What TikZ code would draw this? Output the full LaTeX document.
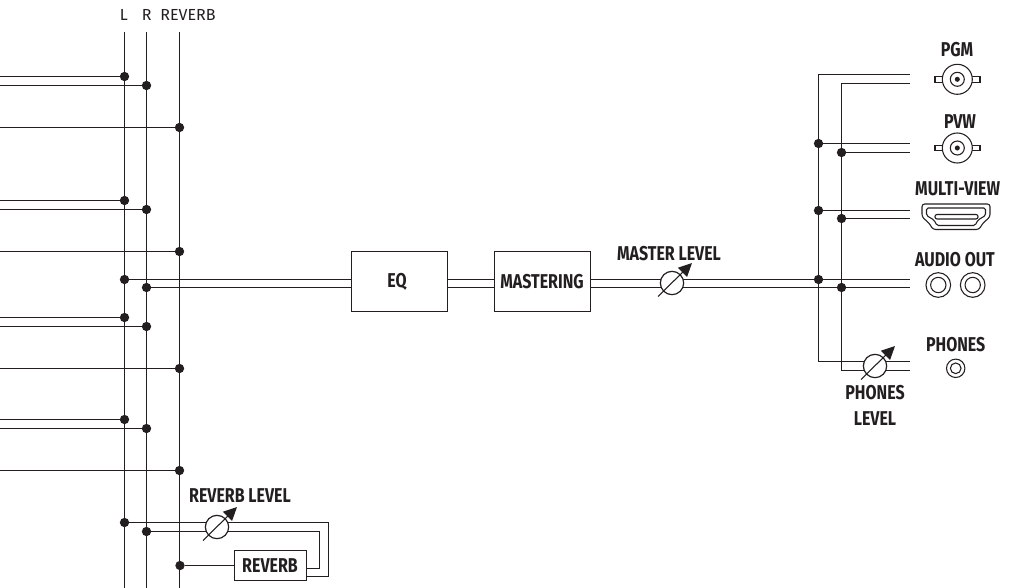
\documentclass[tikz,border=0pt]{standalone}
\usepackage{fontspec}
\setmainfont{Fira Sans}
\newfontfamily\lblfont[FakeStretch=0.8]{Fira Sans}
\usetikzlibrary{arrows.meta}
\definecolor{ink}{HTML}{231F20}
\tikzset{
  wire/.style={draw=ink,line width=0.9pt},
  jdot/.style={circle,fill=ink,inner sep=0pt,minimum size=7pt},
  lbl/.style={font=\lblfont\bfseries\fontsize{15}{17}\selectfont,text=ink,inner sep=0pt,align=center},
  box/.style={draw=ink,line width=0.9pt,fill=white,inner sep=0pt},
  meter/.style={circle,draw=ink,line width=0.9pt,fill=white,inner sep=0pt,minimum size=17.5pt},
  knob/.style={draw=ink,line width=0.8pt,-{Triangle[length=10pt,width=9.5pt]}},
  port/.style={draw=ink,line width=0.8pt,fill=white}
}
\begin{document}
\begin{tikzpicture}[x=0.75pt,y=-0.75pt]
  \useasboundingbox (0,0) rectangle (1009,588);
  % buses
  \foreach \x/\n/\txt/\lx in {124.5/busl/L/123.8, 146.5/busr/R/146.7, 179.5/busv/REVERB/188} {
    \coordinate (\n top) at (\x,32);
    \coordinate (\n end) at (\x,588);
    \draw[wire] (\n top) -- (\n end);
    \node[text=ink,inner sep=0pt,font=\fontsize{12}{14}\selectfont] (\n txt) at (\lx,15) {\txt};
  }
  % inputs
  \foreach \y/\n/\x in {76.5/a/124.5, 85.5/b/146.5, 127.5/c/179.5, 200.5/d/124.5, 209.5/e/146.5, 251.5/f/179.5,
      317.5/g/124.5, 326.5/h/146.5, 368.5/i/179.5, 419.5/j/124.5, 428.5/k/146.5, 470.5/m/179.5} {
    \coordinate (in\n) at (0,\y);
    \node[jdot] (j\n) at (\x,\y) {};
    \draw[wire] (in\n) -- (j\n);
  }
  % boxes
  \node[box,minimum width=72pt,minimum height=45.5pt] (eq) at (399.5,281.5) {};
  \node[lbl] (eqtxt) at (397,281.5) {EQ};
  \node[box,minimum width=71.5pt,minimum height=45.5pt] (mast) at (542.5,281.5) {};
  \node[lbl] (masttxt) at (542,281.5) {MASTERING};
  \node[box,minimum width=54.3pt,minimum height=23pt] (rev) at (270.5,565.5) {};
  \node[lbl] (revtxt) at (270,566) {REVERB};
  % main bus
  \node[jdot] (mainl) at (124.5,279.5) {};
  \node[jdot] (mainr) at (146.5,287.5) {};
  \node[jdot] (outl) at (818.5,279.5) {};
  \node[jdot] (outr) at (841.5,287.5) {};
  \coordinate (endl) at (910,279.5);
  \coordinate (endr) at (910,287.5);
  \draw[wire] (mainl) -- (mainl -| eq.west) (mainr) -- (mainr -| eq.west);
  \draw[wire] (mainl -| eq.east) -- (mainl -| mast.west) (mainr -| eq.east) -- (mainr -| mast.west);
  \draw[wire] (mainl -| mast.east) -- (endl) (mainr -| mast.east) -- (endr);
  % outputs
  \coordinate (pgml) at (910,74.5);
  \coordinate (pgmr) at (910,83.5);
  \coordinate (phl) at (910,361.5);
  \coordinate (phr) at (910,370.5);
  \draw[wire] (pgml) -| (outl) (outl) |- (phl);
  \draw[wire] (pgmr) -| (outr) (outr) |- (phr);
  \foreach \y/\z/\n in {143.5/152.5/pvw, 210.5/218.5/hdmi} {
    \node[jdot] (\n l) at (818.5,\y) {};
    \node[jdot] (\n r) at (841.5,\z) {};
    \coordinate (\n el) at (910,\y);
    \coordinate (\n er) at (910,\z);
    \draw[wire] (\n l) -- (\n el) (\n r) -- (\n er);
  }
  % reverb loop
  \node[jdot] (sendl) at (124.5,522.5) {};
  \node[jdot] (sendr) at (146.5,531.5) {};
  \node[jdot] (back) at (180,565.5) {};
  \coordinate (cornl) at (328.5,522.5);
  \coordinate (cornr) at (319.5,531.5);
  \coordinate (retl) at (306.7,576.5);
  \coordinate (retr) at (306.7,568.5);
  \draw[wire] (sendl) -- (cornl) -- (cornl |- retl) -- (retl);
  \draw[wire] (sendr) -- (cornr) -- (cornr |- retr) -- (retr);
  \draw[wire] (back) -- (rev);
  % level knobs
  \foreach \x/\y/\n in {672/283/master, 875/366/phones, 217/527/reverb} {
    \node[meter] (\n) at (\x,\y) {};
    \coordinate (\n a) at (\x-14,\y+13.5);
    \coordinate (\n b) at (\x+20,\y-20);
    \draw[knob] (\n a) -- (\n b);
  }
  \node[lbl] (mastlv) at (669,253.5) {MASTER LEVEL};
  \node[lbl] (phlv) at (875,393) {PHONES};
  \node[lbl] (phlvb) at (875,419) {LEVEL};
  \node[lbl] (revlv) at (240,496) {REVERB LEVEL};
  % connectors
  \foreach \y/\n/\txt/\lx/\ly in {79.3/pgmc/PGM/957/50, 148/pvwc/PVW/960/122} {
    \draw[port] (935,\y-2.8) rectangle (980,\y+2.8);
    \node[port,circle,inner sep=0pt,minimum size=22.5pt,line width=0.8pt] (\n) at (957.3,\y) {};
    \node[circle,draw=ink,line width=0.8pt,inner sep=0pt,minimum size=10.5pt] (\n i) at (\n) {};
    \node[circle,fill=ink,inner sep=0pt,minimum size=3.8pt] (\n d) at (\n) {};
    \node[lbl] (\n txt) at (\lx,\ly) {\txt};
  }
  \node[lbl] (hdmitxt) at (957.7,189) {MULTI-VIEW};
  \draw[port,rounded corners=2pt] (922,204) -- (990,204) -- (990,217) -- (983,223) -- (979,229.5) -- (933,229.5) -- (929,223) -- (922,217) -- cycle;
  \draw[port,rounded corners=1.2pt] (926.5,208) -- (985.5,208) -- (985.5,215.5) -- (978,220) -- (975,225.5) -- (937,225.5) -- (934,220) -- (926.5,215.5) -- cycle;
  \draw[draw=ink,line width=0.8pt,rounded corners=1.5pt] (935,214.5) rectangle (978,219);
  \node[lbl] (audiotxt) at (955,260) {AUDIO OUT};
  \foreach \x/\n in {938.3/audl, 972.7/audr} {
    \node[circle,draw=ink,line width=0.8pt,inner sep=0pt,minimum size=18.5pt] (\n) at (\x,285) {};
    \node[circle,draw=ink,line width=0.8pt,inner sep=0pt,minimum size=11.5pt] (\n i) at (\n) {};
  }
  \node[lbl] (phtxt) at (955.7,345) {PHONES};
  \node[circle,draw=ink,line width=0.8pt,inner sep=0pt,minimum size=13.8pt] (jack) at (955.7,368.3) {};
  \node[circle,draw=ink,line width=0.8pt,inner sep=0pt,minimum size=8pt] (jacki) at (jack) {};
\end{tikzpicture}
\end{document}
